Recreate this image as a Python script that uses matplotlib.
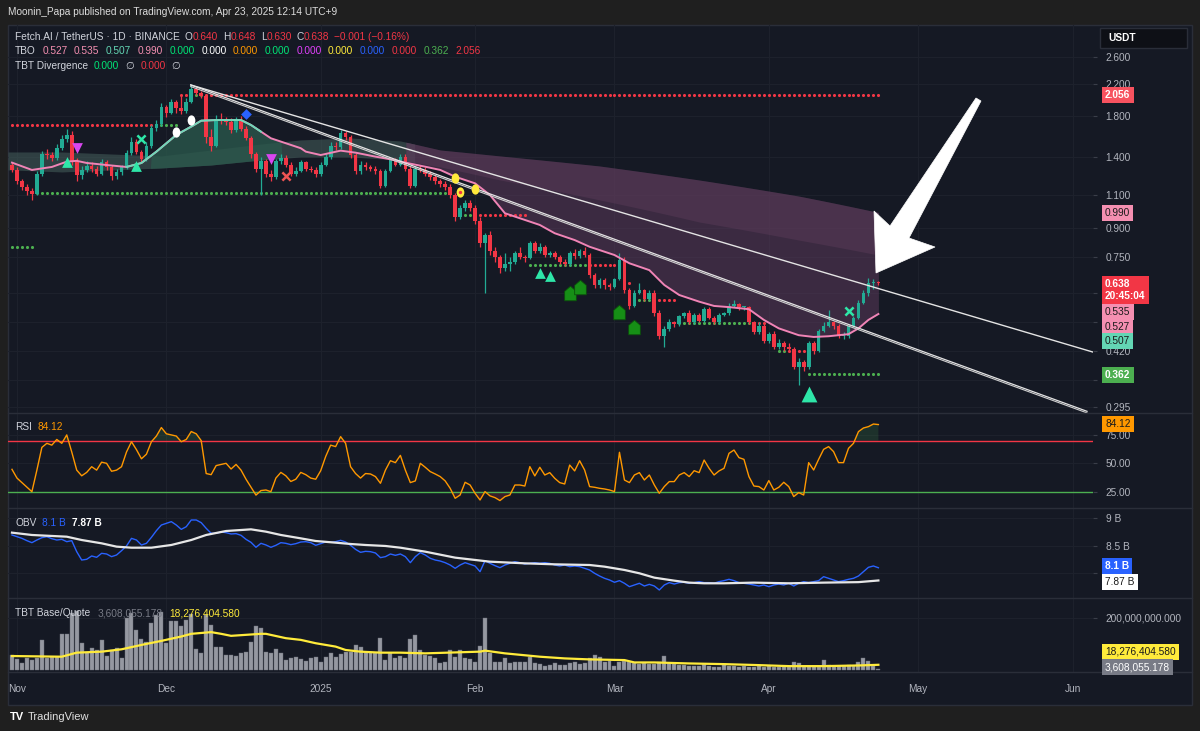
import numpy as np
import pandas as pd
import matplotlib
matplotlib.use("Agg")
import matplotlib.pyplot as plt
import matplotlib.ticker as mticker
from matplotlib.path import Path
from matplotlib.patches import Polygon, Rectangle
from matplotlib.transforms import Affine2D, blended_transform_factory
from matplotlib.lines import Line2D

plt.rcParams['font.family'] = ['Liberation Sans', 'DejaVu Sans']

W, H = 1200, 731
BG = '#1f1f1f'
PANEL = '#151924'
TXT = '#d1d4dc'
AXT = '#b2b5be'
GRID = '#1d212c'
SEP = '#2a2e39'
UP = '#22ab94'
DN = '#f23645'
PINK = '#f084b6'
TEAL = '#6fd8b8'

# ---- data (day index: 0 = 2024-11-01) ----
NOV1 = pd.Timestamp('2024-11-01')
months = ['2024-11-01', '2024-12-01', '2025-01-01', '2025-02-01',
          '2025-03-01', '2025-04-01', '2025-05-01', '2025-06-01']
month_labels = ['Nov', 'Dec', '2025', 'Feb', 'Mar', 'Apr', 'May', 'Jun']

first_open = 1.33
closes = [1.29, 1.20, 1.16, 1.13, 1.11, 1.26, 1.42, 1.41, 1.39, 1.48, 1.56, 1.60, 1.36, 1.25, 1.29, 1.32,
          1.30, 1.26, 1.35, 1.31, 1.24, 1.27, 1.31, 1.43, 1.53, 1.44, 1.38, 1.50, 1.67, 1.71, 1.90, 1.84,
          1.96, 1.89, 1.86, 1.97, 2.13, 2.08, 2.04, 1.58, 1.50, 1.77, 1.75, 1.74, 1.65, 1.76, 1.66, 1.57,
          1.42, 1.30, 1.36, 1.26, 1.23, 1.36, 1.39, 1.33, 1.26,
          1.28, 1.35, 1.30, 1.29, 1.26, 1.33, 1.40, 1.50, 1.49, 1.62, 1.58, 1.41, 1.28, 1.33, 1.31, 1.30,
          1.28, 1.17, 1.28, 1.37, 1.33, 1.40, 1.30, 1.17, 1.30, 1.29, 1.26, 1.23, 1.20, 1.18, 1.16, 1.10,
          0.96, 1.02, 1.05, 1.02, 0.94, 0.82, 0.86, 0.78, 0.75, 0.70, 0.72, 0.73, 0.77, 0.75, 0.745, 0.82,
          0.78, 0.80, 0.76, 0.77, 0.75, 0.73, 0.72, 0.77, 0.755, 0.78, 0.76, 0.67,
          0.63, 0.65, 0.63, 0.625, 0.655, 0.735, 0.61, 0.555, 0.60, 0.61, 0.58, 0.60, 0.53, 0.46, 0.48, 0.50,
          0.495, 0.52, 0.53, 0.50, 0.525, 0.505, 0.545, 0.515, 0.50, 0.525, 0.53, 0.555, 0.56, 0.55, 0.55,
          0.50, 0.47, 0.49, 0.445, 0.465, 0.43, 0.44, 0.43, 0.425, 0.38, 0.39, 0.38, 0.44, 0.42, 0.475, 0.49,
          0.50, 0.49, 0.46, 0.46, 0.49, 0.515, 0.565, 0.60, 0.64, 0.64, 0.638]
highs = [1.35, 1.31, 1.22, 1.18, 1.15, 1.28, 1.45, 1.47, 1.44, 1.51, 1.60, 1.66, 1.64, 1.39, 1.32, 1.36,
         1.35, 1.32, 1.38, 1.37, 1.33, 1.30, 1.33, 1.46, 1.58, 1.56, 1.46, 1.53, 1.70, 1.76, 1.95, 1.93,
         2.00, 1.99, 2.05, 2.02, 2.19, 2.16, 2.11, 2.06, 1.66, 1.81, 1.84, 1.79, 1.78, 1.79, 1.80, 1.69,
         1.59, 1.44, 1.40, 1.38, 1.29, 1.38, 1.42, 1.41, 1.35,
         1.31, 1.37, 1.36, 1.32, 1.31, 1.35, 1.43, 1.53, 1.53, 1.65, 1.64, 1.60, 1.43, 1.36, 1.35, 1.33,
         1.32, 1.30, 1.30, 1.39, 1.39, 1.42, 1.42, 1.32, 1.32, 1.33, 1.31, 1.28, 1.25, 1.22, 1.20, 1.18,
         1.12, 1.04, 1.07, 1.07, 1.04, 0.96, 0.87, 0.88, 0.80, 0.76, 0.77, 0.75, 0.78, 0.80, 0.76, 0.83,
         0.83, 0.82, 0.81, 0.78, 0.78, 0.76, 0.74, 0.78, 0.79, 0.79, 0.80, 0.77,
         0.68, 0.66, 0.66, 0.64, 0.66, 0.77, 0.75, 0.62, 0.61, 0.64, 0.615, 0.61, 0.61, 0.54, 0.49, 0.51,
         0.505, 0.525, 0.535, 0.54, 0.53, 0.53, 0.55, 0.55, 0.52, 0.53, 0.535, 0.565, 0.575, 0.565, 0.555,
         0.555, 0.505, 0.50, 0.495, 0.47, 0.475, 0.45, 0.445, 0.44, 0.43, 0.40, 0.395, 0.445, 0.445, 0.48,
         0.50, 0.54, 0.505, 0.495, 0.47, 0.495, 0.52, 0.575, 0.61, 0.66, 0.655, 0.648]
lows = [1.27, 1.18, 1.14, 1.10, 1.07, 1.10, 1.24, 1.38, 1.36, 1.37, 1.46, 1.53, 1.33, 1.20, 1.22, 1.27,
        1.27, 1.24, 1.25, 1.29, 1.21, 1.22, 1.25, 1.30, 1.41, 1.42, 1.35, 1.36, 1.48, 1.64, 1.69, 1.79,
        1.82, 1.84, 1.82, 1.84, 1.95, 2.05, 2.01, 1.52, 1.45, 1.49, 1.71, 1.70, 1.62, 1.63, 1.64, 1.55,
        1.39, 1.27, 1.10, 1.23, 1.20, 1.22, 1.34, 1.31, 1.24,
        1.24, 1.27, 1.28, 1.27, 1.23, 1.24, 1.32, 1.38, 1.46, 1.47, 1.55, 1.39, 1.26, 1.26, 1.29, 1.28,
        1.26, 1.15, 1.16, 1.27, 1.32, 1.32, 1.28, 1.15, 1.16, 1.27, 1.24, 1.21, 1.18, 1.16, 1.14, 1.08,
        0.94, 0.95, 1.00, 1.00, 0.92, 0.80, 0.60, 0.76, 0.73, 0.68, 0.69, 0.69, 0.72, 0.74, 0.73, 0.74,
        0.77, 0.77, 0.75, 0.75, 0.74, 0.72, 0.71, 0.71, 0.74, 0.745, 0.75, 0.66,
        0.62, 0.62, 0.615, 0.61, 0.62, 0.65, 0.60, 0.545, 0.55, 0.595, 0.57, 0.575, 0.52, 0.45, 0.43, 0.475,
        0.485, 0.49, 0.515, 0.495, 0.495, 0.50, 0.50, 0.51, 0.495, 0.495, 0.52, 0.525, 0.55, 0.54, 0.54,
        0.495, 0.465, 0.465, 0.44, 0.44, 0.425, 0.425, 0.42, 0.415, 0.375, 0.34, 0.37, 0.375, 0.41, 0.415,
        0.47, 0.485, 0.48, 0.455, 0.45, 0.455, 0.485, 0.51, 0.56, 0.59, 0.615, 0.630]

# fast TBO line and slow cloud edges, read at intervals
ema_day = [-1, 3, 7, 10, 12, 14, 18, 22, 25, 28, 32, 35, 37, 40, 45, 47, 49, 51, 53, 57, 58, 61, 65, 68,
           72, 75, 78, 82, 85, 88, 92, 95, 98, 102, 105, 108, 112, 115, 120, 123, 127, 130, 133, 137, 140,
           143, 147, 150, 153, 157, 160, 163, 167, 169, 171, 173]
ema_val = [1.349, 1.289, 1.313, 1.357, 1.364, 1.346, 1.329, 1.313, 1.346, 1.444, 1.602, 1.687, 1.750,
           1.757, 1.757, 1.704, 1.635, 1.569, 1.537, 1.475, 1.444, 1.414, 1.453, 1.435, 1.400, 1.377,
           1.349, 1.315, 1.289, 1.236, 1.186, 1.103, 0.985, 0.945, 0.916, 0.870, 0.834, 0.800, 0.760,
           0.722, 0.692, 0.631, 0.593, 0.569, 0.554, 0.550, 0.543, 0.508, 0.482, 0.462, 0.457, 0.459,
           0.465, 0.482, 0.508, 0.527]
cloud_day = [-1, 9, 19, 29, 39, 49, 57, 67, 77, 85, 97, 117, 137, 157, 173]
cloud_top = [1.441, 1.441, 1.423, 1.406, 1.459, 1.514, 1.553, 1.572, 1.543, 1.459, 1.406, 1.321, 1.211,
             1.096, 0.990]
cloud_bot = [1.289, 1.273, 1.289, 1.305, 1.329, 1.371, 1.397, 1.397, 1.371, 1.313, 1.211, 1.070, 0.933,
             0.834, 0.760]

# TBO support / resistance dots
lvl_start = [-1, 28, 33, 35, 38, -1, 4, 89, 92, 103, 115, 122, 124, 128, 133, 148, 153, 155, 159]
lvl_end = [27, 32, 34, 37, 173, 3, 86, 91, 102, 114, 120, 123, 127, 132, 147, 150, 154, 158, 173]
lvl_price = [1.70, 1.70, 2.05, 2.05, 2.056, 0.80, 1.117, 0.975, 0.975, 0.714, 0.714, 0.64, 0.575, 0.575,
             0.498, 0.498, 0.42, 0.42, 0.362]
lvl_kind = ['r', 's', 'r', 's', 'r', 's', 's', 's', 'r', 's', 'r', 'r', 's', 'r', 's', 'r', 's', 'r', 's']

# signals
buy_day, buy_px = [10, 24, 105, 107], [1.354, 1.321, 0.680, 0.667]
buy_big_day, buy_big_px = [159], [0.321]
sell_day, sell_px = [12, 51], [1.478, 1.380]
bullx_day, bullx_px = [25, 167], [1.562, 0.537]
bearx_day, bearx_px = [54], [1.242]
white_day, white_px = [32, 35], [1.632, 1.758]
blue_day, blue_px = [46], [1.825]
yellow_day, yellow_px = [88, 89, 92], [1.226, 1.124, 1.145]
house_day, house_px = [111, 113, 121, 124], [0.600, 0.623, 0.534, 0.486]

# trend lines (day, price) end points
trend_up = ([34.9, 216.1], [2.185, 0.416])
trend_low = ([34.9, 214.9], [2.185, 0.288])

rsi = [44.7, 37, 33, 29, 25, 44, 64, 67.6, 66, 71, 67.6, 75, 60, 44, 39, 42, 47, 44, 51, 50,
       43, 44, 47, 60, 69, 62, 54, 58, 69, 74, 81.5, 76, 75, 74, 69, 71, 78, 76, 70, 41,
       40, 48, 49, 50, 45, 49, 44, 36, 29, 22, 26, 26.5, 25, 37, 42, 39, 34, 36, 42, 40,
       37, 36, 43.5, 56, 66, 64.7, 73.5, 67.6, 47, 41, 37, 41, 40.6, 38.3, 32.4, 44, 52.3, 50.6, 57,
       44, 33, 34.5, 50, 46.5, 42.7, 40.6, 38.3, 34.5, 28, 19.2, 22.1, 33.3, 30.9, 23.6, 17.7, 25.1,
       21.3, 19.8, 17.2, 20.7, 22.1, 30.9, 30.9, 30, 47.1, 38.9, 46.5, 39.7, 41.8, 36.8, 33, 31.8,
       48.5, 43.3, 52.3, 44.1, 29.5, 28.9, 28, 27.4, 26.5, 25.1, 59.7, 35.3, 33, 39.7, 41.8, 35.3,
       39.7, 30.9, 23.6, 29.5, 33.9, 33.9, 39.7, 41.8, 38.3, 43.5, 41.8, 52.9, 45.6, 39.7, 43.3, 45.6,
       58.8, 61.7, 55, 53.5, 38.3, 30, 29.5, 26.5, 34.8, 26.5, 28.9, 33.3, 29.5, 20.7, 24.2, 22.1,
       50.6, 44.1, 53.5, 62.3, 64.7, 60.3, 50.6, 50.6, 63.2, 67.6, 77.9, 81.1, 82.3, 84.6, 84.12]

obv = [8.693, 8.662, 8.632, 8.590, 8.554, 8.602, 8.644, 8.662, 8.626, 8.602, 8.614, 8.572, 8.590, 8.391,
       8.240, 8.253, 8.313, 8.289, 8.361, 8.349, 8.301, 8.331, 8.409, 8.494, 8.632, 8.602, 8.512, 8.542,
       8.650, 8.771, 8.873, 8.904, 8.934, 8.873, 8.795, 8.843, 8.964, 8.964, 8.916, 8.813, 8.723, 8.723,
       8.747, 8.735, 8.711, 8.717, 8.687, 8.614, 8.560, 8.470, 8.542, 8.512, 8.470, 8.506, 8.554, 8.542,
       8.518, 8.536, 8.566, 8.572, 8.554, 8.506, 8.536, 8.566, 8.560, 8.572, 8.596, 8.566, 8.506, 8.433,
       8.379, 8.397, 8.391, 8.367, 8.283, 8.301, 8.349, 8.325, 8.349,
       8.301, 8.192, 8.301, 8.373, 8.331, 8.271, 8.240, 8.222, 8.192, 8.150, 8.090, 8.150, 8.192, 8.162,
       8.132, 8.029, 8.228, 8.180, 8.138, 8.102, 8.150, 8.180, 8.210, 8.192, 8.168, 8.180, 8.192, 8.180,
       8.192, 8.180, 8.150, 8.132, 8.150, 8.120, 8.132, 8.120, 8.090, 8.060, 8.000, 7.951, 7.909, 7.879,
       7.837, 7.867, 7.819, 7.758, 7.788, 7.819, 7.770, 7.800, 7.770, 7.698, 7.788, 7.831, 7.806, 7.831,
       7.837, 7.819, 7.831, 7.849, 7.831, 7.831, 7.819, 7.849, 7.867, 7.891, 7.867, 7.831, 7.819, 7.806,
       7.788, 7.770, 7.788, 7.758, 7.788, 7.806, 7.788, 7.819, 7.770, 7.819, 7.849, 7.831, 7.849, 7.867,
       7.939, 7.909, 7.879, 7.849, 7.867, 7.891, 7.909, 7.951, 8.029, 8.108, 8.132, 8.100]
obv_ma_day = [-1, 3, 10, 13, 17, 20, 23, 27, 31, 35, 38, 42, 47, 50, 53, 57, 60, 64, 67, 70, 74, 77, 82,
              88, 95, 102, 108, 115, 118, 122, 125, 128, 132, 135, 138, 142, 148, 155, 162, 169, 171, 173]
obv_ma_val = [8.735, 8.693, 8.662, 8.602, 8.542, 8.482, 8.463, 8.463, 8.512, 8.602, 8.693, 8.765, 8.795,
              8.753, 8.693, 8.632, 8.584, 8.554, 8.530, 8.512, 8.494, 8.463, 8.391, 8.283, 8.210, 8.180,
              8.162, 8.150, 8.120, 8.060, 8.000, 7.921, 7.867, 7.831, 7.819, 7.819, 7.831, 7.819, 7.831,
              7.840, 7.855, 7.870]

# base/quote volume, millions
volume = [56.2, 39.2, 23.5, 43.1, 36.6, 43.1, 115, 43.1, 47.1, 49.7, 138.5, 138.5, 219.6, 226.1, 102, 69.3,
          82.3, 75.8, 115, 52.3, 75.8, 82.3, 43.1, 200, 219.6, 154.2, 117.6, 108.5, 180.4, 213, 222.2, 102,
          186.9, 186.9, 167.3, 193.4, 217, 78.4, 62.7, 213, 173.8, 88.9, 86.3, 56.2, 56.2, 52.3, 65.4, 69.3,
          108.5, 167.3, 160.8, 69.3, 62.7, 78.4, 62.7, 36.6, 43.1, 49.7, 39.2, 34, 43.1, 47.1, 30.1, 49.7,
          62.7, 49.7, 60.1, 69.3, 69.3, 95.4, 88.9, 69.3, 69.3, 62.7, 121.6, 36.6, 62.7, 43.1, 52.3,
          43.1, 117.6, 134.6, 75.8, 56.2, 52.3, 43.1, 23.5, 30.1, 75.8, 49.7, 75.8, 43.1, 39.2, 30.1, 91.5,
          200, 62.7, 30.1, 30.1, 43.1, 23.5, 30.1, 30.1, 30.1, 47.1, 23.5, 20.9, 13.1, 17, 26.1, 17, 17,
          23.5, 30.1, 20.9, 23.5, 43.1, 56.2, 49.7, 30.1, 34, 13.1, 30.1, 34, 30.1, 23.5, 20.9, 23.5, 20.9,
          20.9, 30.1, 52.3, 23.5, 20.9, 17, 17, 13.1, 13.1, 13.1, 20.9, 13.1, 10.5, 10.5, 20.9, 13.1, 13.1,
          10.5, 13.1, 10.5, 10.5, 13.1, 10.5, 13.1, 7.8, 10.5, 13.1, 10.5, 30.1, 23.5, 13.1, 13.1, 13.1,
          10.5, 36.6, 17, 13.1, 13.1, 13.1, 17, 13.1, 30.1, 43.1, 34, 13.1, 3.608]
vma_day = [-1, 9, 12, 17, 21, 25, 29, 33, 35, 39, 41, 43, 49, 50, 54, 57, 60, 64, 66, 69, 73, 77, 82, 93,
           94, 98, 105, 110, 115, 122, 124, 128, 135, 142, 149, 155, 162, 169, 173]
vma_val = [52.3, 49.7, 65.4, 69.3, 78.4, 95.4, 111.1, 128.1, 138.5, 145.1, 138.5, 130.7, 138.5, 138.5,
           121.6, 115, 102, 88.9, 75.8, 69.3, 65.4, 65.4, 62.7, 69.3, 73.2, 62.7, 49.7, 43.1, 39.2, 36.6,
           27.4, 27.4, 23.5, 20.9, 17, 13.1, 13.1, 15.7, 18.28]

# ---- figure ----
days = np.arange(-1, -1 + len(closes))
month_day = [(pd.Timestamp(m) - NOV1).days for m in months]
XL = (-1.8, 216.1)

fig = plt.figure(figsize=(W / 100, H / 100), dpi=100, facecolor=BG)


def fx(px):
    return px / W


def fy(py):
    return 1 - py / H


fig.add_artist(Rectangle((fx(8), fy(705)), fx(1192) - fx(8), fy(25) - fy(705), transform=fig.transFigure,
                         fc=PANEL, ec=SEP, lw=1, zorder=-5))


def pane(top, bottom):
    ax = fig.add_axes([fx(8), fy(bottom), fx(1093) - fx(8), (bottom - top) / H])
    ax.set_facecolor('none')
    for s in ax.spines.values():
        s.set_visible(False)
    ax.set_xlim(XL)
    ax.set_xticks(month_day)
    ax.tick_params(axis='x', length=0, labelbottom=False)
    ax.yaxis.tick_right()
    ax.tick_params(axis='y', labelcolor=AXT, color='#3a3e49', labelsize=7.3, length=3, width=0.8, pad=6)
    ax.grid(True, color=GRID, lw=0.8)
    ax.set_axisbelow(True)
    return ax


# price pane
ax = pane(25, 413)
ax.set_yscale('log')
pticks = [2.6, 2.2, 1.8, 1.4, 1.1, 0.9, 0.75, 0.6, 0.5, 0.42, 0.35, 0.295]
hidden = {0.6, 0.5, 0.35}   # covered by value tags in the reference
ax.set_yticks(pticks)
ax.set_yticklabels(['' if v in hidden else f'{v:.3f}' for v in pticks])
ax.yaxis.set_minor_locator(mticker.NullLocator())
ax.set_ylim(0.285, 3.17)

g = np.linspace(-1.8, 173, 900)
F = np.interp(g, ema_day, ema_val)
T = np.interp(g, cloud_day, cloud_top)
B = np.interp(g, cloud_day, cloud_bot)
early = g < 80
late = g >= 78
ax.fill_between(g, B, T, where=early, color='#45605c', alpha=0.55, lw=0, zorder=1)
ax.fill_between(g, B, F, where=early & (F > T), color='#2a574b', alpha=0.8, lw=0, interpolate=True, zorder=1)
ax.fill_between(g, F, T, where=late & (F < T), color='#553756', alpha=0.6, lw=0, interpolate=True, zorder=1)
ax.fill_between(g, B, T, where=late, color='#6a4364', alpha=0.32, lw=0, zorder=1)

colors = {'r': DN, 's': '#4caf50'}
for s0, s1, p, k in zip(lvl_start, lvl_end, lvl_price, lvl_kind):
    dd = np.arange(s0, s1 + 1)
    ax.scatter(dd, np.full(len(dd), p), s=5, color=colors[k], lw=0, zorder=2)

o = np.array([first_open] + closes[:-1])
c = np.array(closes)
hi = np.maximum(np.array(highs), np.maximum(o, c))
lo = np.minimum(np.array(lows), np.minimum(o, c))
cc = np.where(c >= o, UP, DN)
ax.vlines(days, lo, hi, colors=cc, lw=0.9, zorder=3)
ax.bar(days, np.maximum(np.abs(c - o), c * 0.005), bottom=np.minimum(o, c), width=0.74, color=cc, lw=0,
       zorder=3)

ed = np.array(ema_day)
ev = np.array(ema_val)
ax.plot(ed, ev, color=PINK, lw=1.4, zorder=4)
tm = (ed >= 22) & (ed <= 49)
ax.plot(ed[tm], ev[tm], color=TEAL, lw=1.4, zorder=4)

ax.plot(*trend_up, color='#e4e4e4', lw=1.0, zorder=5)
ax.plot(*trend_low, color='#e4e4e4', lw=0.9, zorder=5)
ax.plot(trend_low[0], np.array(trend_low[1]) * 0.99, color='#cfcfcf', lw=0.8, zorder=5)

oval = Affine2D().scale(0.75, 1.0).transform_path(Path.unit_circle())
house = Path([(-0.8, -1), (0.8, -1), (0.8, 0.3), (0, 1), (-0.8, 0.3), (-0.8, -1)],
             [Path.MOVETO] + [Path.LINETO] * 4 + [Path.CLOSEPOLY])
ax.scatter(buy_day, buy_px, marker='^', s=60, color='#2ee6a8', lw=0, zorder=6)
ax.scatter(buy_big_day, buy_big_px, marker='^', s=130, color='#2ee6a8', lw=0, zorder=6)
ax.scatter(sell_day, sell_px, marker='v', s=60, color='#d846ef', lw=0, zorder=6)
ax.scatter(bullx_day, bullx_px, marker='x', s=35, color='#2ee6a8', lw=1.8, zorder=6)
ax.scatter(bearx_day, bearx_px, marker='x', s=35, color='#f05454', lw=1.8, zorder=6)
ax.scatter(white_day, white_px, marker=oval, s=55, color='white', lw=0, zorder=6)
ax.scatter(blue_day, blue_px, marker='D', s=30, color='#2962ff', lw=0, zorder=6)
ax.scatter(yellow_day, yellow_px, marker=oval, s=55, color='#ffe93b', lw=0, zorder=6)
ax.scatter(yellow_day[1:2], yellow_px[1:2], s=6, color=DN, lw=0, zorder=7)
ax.scatter(house_day, house_px, marker=house, s=110, color='#168f16', edgecolor='#0b4f0b', lw=0.6, zorder=6)

# RSI pane
ar = pane(413, 508)
ar.set_ylim(10.65, 94.3)
ar.set_yticks([75, 50, 25])
ar.set_yticklabels(['75.00', '50.00', '25.00'])
r = np.array(rsi)
ar.fill_between(days, r, 70, where=r > 70, interpolate=True, color='#4caf50', alpha=0.16, lw=0)
ar.fill_between(days, r, 25, where=r < 25, interpolate=True, color=DN, alpha=0.16, lw=0)
ar.axhline(70, color=DN, lw=1)
ar.axhline(25, color='#4caf50', lw=1)
ar.plot(days, r, color='#ff9800', lw=1.0)

# OBV pane
ao = pane(508, 598)
ao.set_ylim(7.553, 9.181)
ao.set_yticks([9, 8.5, 8])
ao.set_yticklabels(['9 B', '8.5 B', ''])
ao.plot(days, obv, color='#2962ff', lw=1.0)
ao.plot(obv_ma_day, obv_ma_val, color='#e6e6e6', lw=1.6)

# volume pane
av = pane(598, 672)
av.set_ylim(-9.7, 277.6)
av.set_yticks([200])
av.set_yticklabels(['200,000,000.000'])
av.bar(days, volume, width=0.8, color='#9598a1', edgecolor='#6b6e78', lw=0.3)
av.plot(vma_day, vma_val, color='#ffeb3b', lw=1.6)

# separators
for yy in (413, 508, 598, 672):
    fig.add_artist(Line2D([fx(8), fx(1192)], [fy(yy)] * 2, color=SEP, lw=1, transform=fig.transFigure))

# time axis labels
tt = blended_transform_factory(av.transData, fig.transFigure)
for d, lab in zip(month_day, month_labels):
    fig.text(d, fy(689), lab, transform=tt, color=AXT, fontsize=7.3, ha='center', va='center')


# right-axis value tags
def tag(y, txt, fc, tc, weight='normal'):
    fig.text(fx(1105), fy(y), txt, color=tc, fontsize=7.3, va='center', ha='left', fontweight=weight,
             linespacing=1.15, bbox=dict(boxstyle='square,pad=0.32', fc=fc, ec='none'), zorder=6)


tag(95, '2.056', '#f7525f', 'white', 'bold')
tag(213, '0.990', '#f48fb1', '#1a1a1a')
tag(290, '0.638\n20:45:04', DN, 'white', 'bold')
tag(312, '0.535', '#f48fb1', '#1a1a1a')
tag(327, '0.527', '#f48fb1', '#1a1a1a')
tag(341, '0.507', '#63d6b4', '#1a1a1a')
tag(375, '0.362', '#4caf50', 'white', 'bold')
tag(424, '84.12', '#ff9800', '#1a1a1a')
tag(566, '8.1 B', '#2962ff', 'white', 'bold')
tag(582, '7.87 B', 'white', '#1a1a1a')
tag(652, '18,276,404.580', '#ffeb3b', '#1a1a1a')
tag(667, '3,608,055.178', '#787b86', 'white')

fig.add_artist(Rectangle((fx(1100), fy(48)), fx(87), 20 / H, transform=fig.transFigure,
                         fc='#0e1016', ec=SEP, lw=1, zorder=5))
fig.text(fx(1108), fy(38), 'USDT', color='white', fontsize=7.3, fontweight='bold', va='center', zorder=6)

# big white arrow
arrow = [(876, 273), (874, 211), (890, 226), (976, 98), (981, 101), (909, 238), (935, 247)]
fig.add_artist(Polygon([(fx(a), fy(b)) for a, b in arrow], closed=True, transform=fig.transFigure,
                       fc='white', ec='white', lw=0.5, zorder=5))

# legends
renderer = fig.canvas.get_renderer()


def legend_row(x, y, parts, size=7.3):
    for part in parts:
        txt, color, gap = part[:3]
        weight = part[3] if len(part) > 3 else 'normal'
        t = fig.text(fx(x), fy(y), txt, color=color, fontsize=size, va='center', ha='left', fontweight=weight)
        x += t.get_window_extent(renderer).width + gap


fig.text(fx(8), fy(12), 'Moonin_Papa published on TradingView.com, Apr 23, 2025 12:14 UTC+9', color='#dcdcdc',
         fontsize=7.3, va='center', ha='left')

legend_row(15, 37, [('Fetch.AI / TetherUS · 1D · BINANCE', TXT, 5), ('O', TXT, 0), ('0.640', DN, 5),
                    ('H', TXT, 0), ('0.648', DN, 5), ('L', TXT, 0), ('0.630', DN, 5), ('C', TXT, 0),
                    ('0.638', DN, 5), ('−0.001 (−0.16%)', DN, 0)])
tbo_vals = ['0.527', '0.535', '0.507', '0.990', '0.000', '0.000', '0.000', '0.000', '0.000', '0.000', '0.000',
            '0.000', '0.362', '2.056']
tbo_cols = ['#f48fb1', '#f48fb1', '#63d6b4', '#f48fb1', '#00e676', '#ffffff', '#ff9800', '#00e676',
            '#e040fb', '#ffeb3b', '#2962ff', DN, '#4caf50', DN]
legend_row(15, 51, [('TBO', TXT, 6.5)] + [(v, col, 6.5) for v, col in zip(tbo_vals, tbo_cols)])
legend_row(15, 66, [('TBT Divergence', TXT, 6), ('0.000', '#00e676', 6), ('∅', TXT, 6), ('0.000', DN, 6),
                    ('∅', TXT, 0)])
legend_row(15, 427, [('RSI', TXT, 6), ('84.12', '#ff9800', 0)])
legend_row(15, 523, [('OBV', TXT, 6), ('8.1 B', '#2962ff', 6), ('7.87 B', '#ffffff', 0, 'bold')])
legend_row(15, 613, [('TBT Base/Quote', TXT, 7), ('3,608,055.178', '#787b86', 7), ('18,276,404.580', '#ffeb3b', 0)])

# footer
fig.text(fx(10), fy(717), 'TV', color='white', fontsize=8, fontweight='bold', va='center')
fig.text(fx(28), fy(717), 'TradingView', color='#e0e0e0', fontsize=8, va='center')

fig.savefig('out.png', dpi=100, facecolor=BG)
